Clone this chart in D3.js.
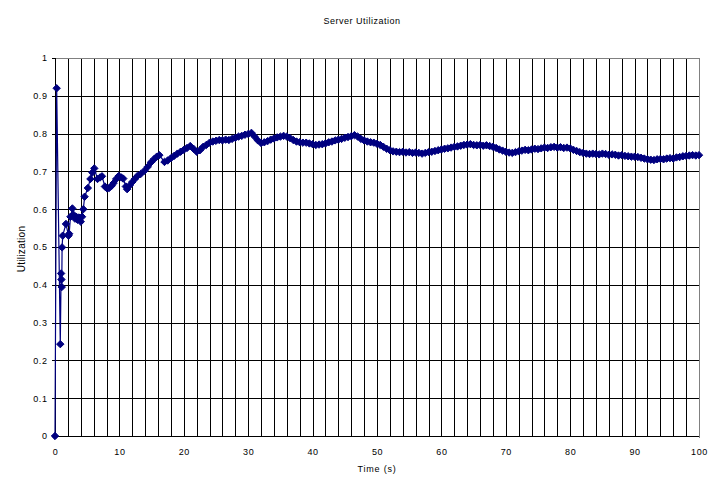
<!DOCTYPE html>
<html><head><meta charset="utf-8">
<script src="https://cdn.jsdelivr.net/npm/d3@7"></script>
<style>
html,body{margin:0;padding:0;background:#fff;}
text{font-family:Arial,"Liberation Sans",sans-serif;fill:#000;}
</style></head>
<body>
<svg id="chart" width="720" height="492"></svg>
<script>
const title = "Server Utilization";
const xTitle = "Time (s)";
const yTitle = "Utilization";
const xTicks = [0,10,20,30,40,50,60,70,80,90,100];
const yTicks = [0,0.1,0.2,0.3,0.4,0.5,0.6,0.7,0.8,0.9,1];
const yTickLabels = ["0","0.1","0.2","0.3","0.4","0.5","0.6","0.7","0.8","0.9","1"];

// early, irregularly sampled points
const earlyTimes = [0,0.26,0.82,0.95,1.0,1.05,1.1,1.2,1.7,2.1,2.2,2.4,2.7,2.9,3.1,3.3,3.5,3.7,4.0,4.2,4.4,4.6,5.1,5.5,5.8,6.1,6.6,7.0,7.3,7.75,8.1,8.4,8.8,9.1,9.5,9.9,10.3,10.6,11.0,11.2,11.6,12.0,12.4,12.8,13.3,13.9,14.4,14.9,15.4,15.8,16.2];
const earlyValues = [0,0.92,0.243,0.43,0.414,0.394,0.499,0.53,0.561,0.53,0.535,0.58,0.602,0.585,0.575,0.58,0.572,0.578,0.567,0.58,0.60,0.633,0.656,0.68,0.697,0.708,0.68,0.684,0.687,0.66,0.655,0.656,0.662,0.669,0.68,0.688,0.684,0.681,0.66,0.653,0.663,0.672,0.68,0.688,0.693,0.702,0.712,0.724,0.733,0.739,0.743];

// later points, sampled every half second from t = 17
const lateStart = 17, lateStep = 0.5;
const lateValues = [0.725,0.729,0.735,0.741,0.747,0.752,0.757,0.762,0.767,0.760,0.752,0.756,0.765,0.770,0.776,0.779,0.781,0.783,0.782,0.784,0.783,0.786,0.789,0.792,0.794,0.797,0.799,0.802,0.792,0.782,0.775,0.777,0.780,0.784,0.787,0.790,0.792,0.794,0.792,0.788,0.783,0.779,0.777,0.776,0.776,0.774,0.772,0.770,0.771,0.772,0.774,0.777,0.779,0.782,0.784,0.786,0.789,0.791,0.793,0.796,0.792,0.786,0.782,0.779,0.777,0.776,0.773,0.770,0.765,0.760,0.756,0.753,0.752,0.751,0.752,0.750,0.751,0.749,0.750,0.749,0.747,0.749,0.751,0.752,0.754,0.756,0.758,0.760,0.761,0.763,0.765,0.766,0.768,0.770,0.771,0.772,0.770,0.769,0.770,0.768,0.769,0.767,0.765,0.762,0.758,0.755,0.752,0.750,0.749,0.751,0.753,0.755,0.757,0.756,0.758,0.760,0.759,0.761,0.763,0.762,0.764,0.765,0.763,0.764,0.762,0.763,0.761,0.757,0.754,0.751,0.749,0.747,0.746,0.747,0.746,0.745,0.747,0.746,0.744,0.745,0.744,0.742,0.743,0.741,0.740,0.739,0.739,0.738,0.736,0.734,0.732,0.731,0.730,0.732,0.733,0.732,0.734,0.735,0.734,0.737,0.738,0.740,0.741,0.742,0.743,0.742,0.743];

const data = earlyTimes.map((t,i)=>({t, u: earlyValues[i]}))
  .concat(lateValues.map((u,i)=>({t: lateStart + i*lateStep, u})));

const svg = d3.select("#chart");
const L = 55, R = 699, T = 58, B = 436;
const x = d3.scaleLinear().domain([0,100]).range([L,R]);
const y = d3.scaleLinear().domain([0,1]).range([B,T]);

// vertical gridlines every 2
const g = svg.append("g").attr("shape-rendering","crispEdges");
g.selectAll("line.v").data(d3.range(2,100,2)).enter().append("line")
  .attr("x1",d=>Math.round(x(d))+0.5).attr("x2",d=>Math.round(x(d))+0.5)
  .attr("y1",T).attr("y2",B).attr("stroke","#000").attr("stroke-width",1);
// horizontal gridlines
g.selectAll("line.h").data(yTicks.slice(1,-1)).enter().append("line")
  .attr("x1",L).attr("x2",R).attr("y1",d=>Math.round(y(d))+0.5).attr("y2",d=>Math.round(y(d))+0.5)
  .attr("stroke","#000").attr("stroke-width",1);
// plot border top/right gray
g.append("line").attr("x1",L).attr("x2",R+0.5).attr("y1",T+0.5).attr("y2",T+0.5).attr("stroke","#808080");
g.append("line").attr("x1",R+0.5).attr("x2",R+0.5).attr("y1",T).attr("y2",B+2).attr("stroke","#808080");

// axes
const yAxis = d3.axisLeft(y).tickValues(yTicks).tickFormat((d,i)=>yTickLabels[i]).tickSize(4).tickPadding(4);
const ya = svg.append("g").attr("transform",`translate(${L+0.5},0)`).call(yAxis);
const xAxis = d3.axisBottom(x).tickValues(xTicks).tickFormat(d3.format("d")).tickSize(0).tickPadding(12);
const xa = svg.append("g").attr("transform",`translate(0,${B+0.5})`).call(xAxis);
[ya,xa].forEach(a=>{
  a.selectAll("path").attr("stroke","#000").attr("shape-rendering","crispEdges");
  a.selectAll("line").attr("stroke","#000").attr("shape-rendering","crispEdges");
  a.selectAll("text").attr("font-size","9px").attr("font-family","Arial, 'Liberation Sans', sans-serif").attr("letter-spacing","0.6px").attr("fill","#000");
});
ya.select(".domain").remove();
ya.append("line").attr("x1",0).attr("x2",0).attr("y1",T).attr("y2",B).attr("stroke","#000").attr("shape-rendering","crispEdges");
xa.select(".domain").attr("d",`M${L},0H${R}`);

// series
const line = d3.line().x(d=>x(d.t)).y(d=>y(d.u));
svg.append("path").datum(data).attr("d",line).attr("fill","none").attr("stroke","#000080").attr("stroke-width",1.2);
const diamond = "M0,-3.7L3.7,0L0,3.7L-3.7,0Z";
svg.append("g").selectAll("path").data(data).enter().append("path")
  .attr("d",diamond).attr("transform",d=>`translate(${x(d.t)},${y(d.u)})`)
  .attr("fill","#000080").attr("stroke","#000080").attr("stroke-width",1);

// titles
svg.append("text").attr("x",362).attr("y",24).attr("text-anchor","middle").attr("font-size","9px").attr("letter-spacing","0.5px").text(title);
svg.append("text").attr("x",377).attr("y",472).attr("text-anchor","middle").attr("font-size","9px").attr("letter-spacing","0.8px").text(xTitle);
svg.append("text").attr("transform","translate(25,249) rotate(-90)").attr("text-anchor","middle").attr("font-size","10px").attr("letter-spacing","0.3px").text(yTitle);
</script>
</body></html>
